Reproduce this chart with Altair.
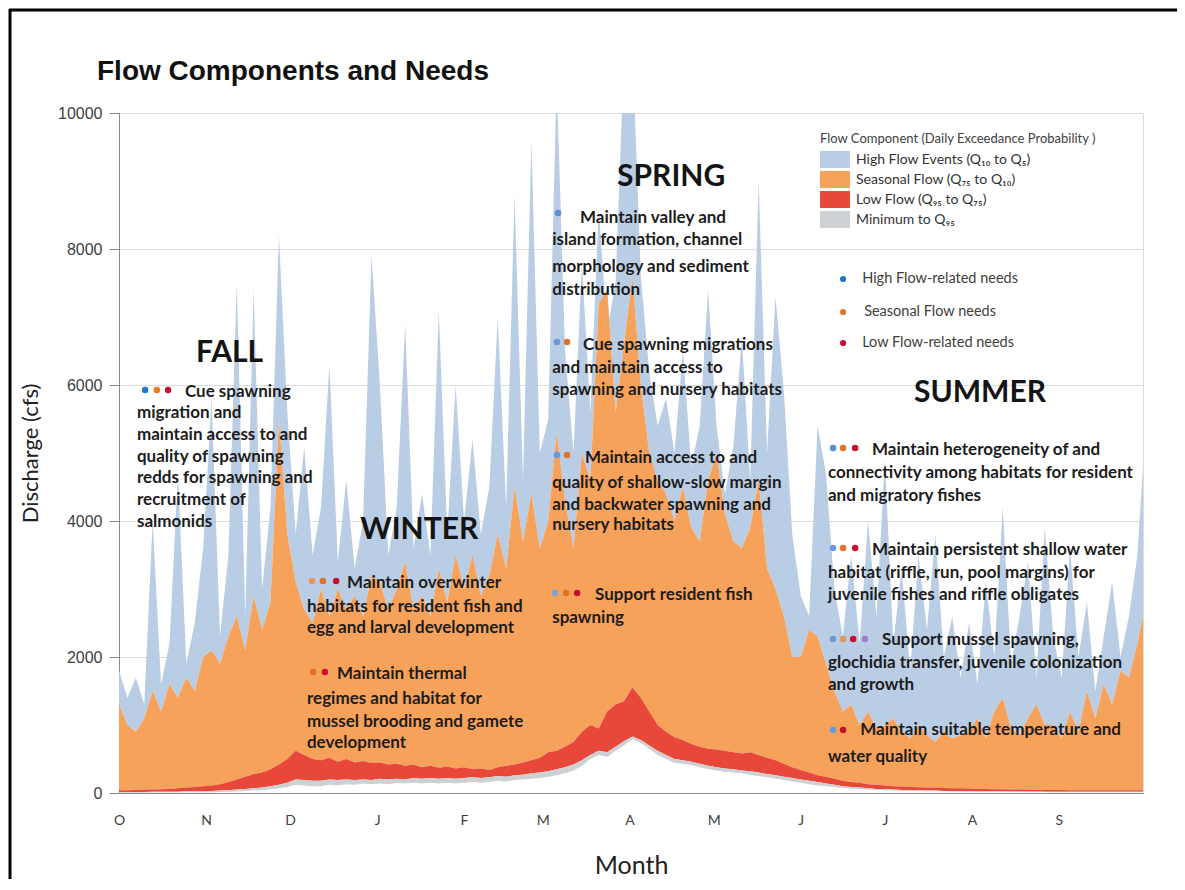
import altair as alt
import pandas as pd

# ---------------- data ----------------
days = [0, 3, 6, 9, 12, 15, 18, 21, 24, 27, 30,
        33, 36, 39, 42, 45, 48, 51, 54, 57, 60,
        63, 66, 69, 72, 75, 78, 81, 84, 87, 90,
        93, 96, 99, 102, 105, 108, 111, 114, 117, 120,
        123, 126, 129, 132, 135, 138, 141, 144, 147, 150,
        153, 156, 159, 162, 165, 168, 171, 174, 177, 180,
        183, 186, 189, 192, 195, 198, 201, 204, 207, 210,
        213, 216, 219, 222, 225, 228, 231, 234, 237, 240,
        243, 246, 249, 252, 255, 258, 261, 264, 267, 270,
        273, 276, 279, 282, 285, 288, 291, 294, 297, 300,
        303, 306, 309, 312, 315, 318, 321, 324, 327, 330,
        333, 336, 339, 342, 345, 348, 351, 354, 357, 360, 363,
        365]

q5 = [1800, 1400, 1700, 1300, 4000, 1600, 2200, 4700, 1900, 2500, 3600,
      5800, 2300, 3500, 7500, 2600, 7400, 3000, 4200, 8200, 5600,
      3800, 5100, 3500, 4200, 6300, 3400, 4600, 3300, 4000, 7900,
      6000, 3500, 4200, 6900, 3600, 4400, 3500, 7100, 3800, 6000,
      4000, 5200, 3800, 4500, 7000, 4200, 8800, 4600, 9600, 5000,
      5500, 10500, 6500, 5000, 7800, 5600, 8600, 6800, 7500, 10800,
      11000, 7600, 6200, 5400, 5800, 5000, 6500, 4800, 5400, 7400,
      5400, 4400, 5100, 6700, 4600, 9000, 5000, 7300, 5900, 3800,
      2900, 2600, 5400, 4700, 3000, 2300, 3500, 2200, 4000, 2600,
      4900, 2200, 3300, 1800, 3500, 2400, 3800, 2000, 2600, 1700,
      2500, 1600, 3100, 2000, 4200, 1900, 2600, 3400, 1700, 3900,
      2300, 1700, 3600, 2000, 2800, 1500, 2300, 3100, 2000, 2600, 3500,
      4800]

q10 = [1300, 1000, 900, 1100, 1500, 1200, 1600, 1400, 1700, 1500, 2000,
       2100, 1900, 2300, 2600, 2100, 2900, 2400, 2800, 5500, 3800,
       3100, 2700, 2500, 3000, 2600, 3000, 2700, 2900, 2600, 3200,
       3100, 2700, 3000, 3400, 2700, 2900, 2600, 3300, 2800, 3500,
       3000, 3500, 2900, 3200, 3800, 3300, 4500, 3700, 4400, 3600,
       4000, 5300, 4300, 3600, 5000, 4600, 7200, 7400, 5600, 6600,
       7600, 6000, 5000, 4600, 4400, 4000, 4500, 3900, 3700, 4600,
       5000, 4100, 3700, 3600, 3900, 4600, 3300, 3000, 2600, 2000,
       2000, 2400, 2300, 1900, 1500, 1200, 1300, 1000, 1200, 950,
       1000, 1100, 900, 800, 1000, 850, 750, 900, 800, 850,
       900, 1100, 800, 1200, 1400, 950, 850, 1100, 1300, 1000,
       1000, 800, 1200, 900, 1500, 1100, 1600, 1300, 1800, 1700, 2200,
       2600]

q75 = [40, 40, 45, 50, 50, 55, 60, 70, 80, 90, 100,
       110, 130, 160, 200, 240, 280, 300, 350, 420, 500,
       620, 560, 500, 480, 520, 460, 500, 450, 470, 440,
       450, 420, 430, 400, 420, 380, 400, 370, 390, 360,
       380, 350, 360, 340, 380, 400, 420, 450, 480, 520,
       600, 620, 680, 750, 900, 1000, 950, 1200, 1300, 1350,
       1550, 1400, 1200, 1000, 900, 820, 780, 720, 680, 650,
       640, 620, 600, 580, 600, 560, 520, 480, 430, 380,
       340, 300, 260, 240, 210, 180, 160, 150, 130, 120,
       110, 100, 95, 90, 85, 80, 80, 75, 70, 70,
       65, 60, 60, 55, 55, 50, 50, 50, 45, 45,
       45, 45, 40, 40, 40, 40, 40, 40, 40, 40, 40,
       40]

q95 = [15, 15, 15, 15, 20, 20, 20, 20, 25, 25, 30,
       30, 35, 40, 50, 60, 70, 80, 100, 120, 150,
       200, 190, 180, 180, 200, 190, 200, 190, 200, 190,
       210, 200, 210, 200, 220, 210, 220, 210, 220, 210,
       220, 230, 220, 230, 250, 240, 260, 270, 290, 300,
       320, 350, 380, 420, 480, 560, 620, 600, 680, 760,
       830, 780, 700, 620, 560, 500, 480, 460, 430, 400,
       380, 360, 350, 330, 320, 300, 280, 260, 240, 220,
       200, 180, 160, 140, 120, 100, 90, 80, 70, 60,
       55, 50, 45, 40, 40, 35, 35, 30, 30, 30,
       28, 26, 25, 25, 24, 23, 22, 22, 21, 20,
       20, 20, 20, 20, 20, 20, 20, 20, 20, 20, 20,
       20]

qmin = [5, 5, 5, 5, 8, 8, 8, 8, 10, 10, 12,
        12, 15, 18, 22, 28, 35, 40, 55, 70, 90,
        120, 110, 100, 100, 120, 110, 130, 120, 140, 130,
        140, 130, 150, 140, 150, 140, 150, 140, 150, 140,
        150, 160, 150, 160, 180, 170, 190, 200, 210, 220,
        240, 260, 290, 330, 400, 500, 560, 530, 620, 700,
        790, 740, 650, 560, 500, 440, 430, 410, 380, 350,
        330, 310, 300, 290, 270, 250, 230, 210, 190, 170,
        150, 130, 110, 100, 90, 75, 65, 55, 50, 45,
        40, 35, 32, 30, 28, 26, 25, 24, 22, 20,
        18, 17, 16, 16, 15, 15, 14, 14, 13, 13,
        12, 12, 12, 12, 12, 12, 12, 12, 12, 12, 12,
        12]

components = ["High Flow Events  (Q\u2081\u2080 to Q\u2085)",
              "Seasonal Flow (Q\u2087\u2085 to Q\u2081\u2080)",
              "Low Flow (Q\u2089\u2085 to Q\u2087\u2085)",
              "Minimum to Q\u2089\u2085"]
component_colors = ["#B9CDE5", "#F7A25A", "#E8483A", "#CDD1D3"]

month_start_days = [0, 31, 61, 92, 123, 151, 182, 212, 243, 273, 304, 335]
month_labels = ["O", "N", "D", "J", "F", "M", "A", "M", "J", "J", "A", "S"]
y_ticks = [0, 2000, 4000, 6000, 8000, 10000]

season_names = ["FALL", "WINTER", "SPRING", "SUMMER"]
season_day = [39.4, 107.0, 196.8, 306.9]
season_cfs = [6471, 3868, 9059, 5882]

need_lines = [
    ("Cue spawning", 23.5, 5897),
    ("migration and", 6.4, 5588),
    ("maintain access to and", 6.4, 5265),
    ("quality of spawning", 6.4, 4941),
    ("redds for spawning and", 6.4, 4632),
    ("recruitment of", 6.4, 4309),
    ("salmonids", 6.4, 3985),
    ("Maintain overwinter", 81.3, 3088),
    ("habitats for resident fish and", 67.0, 2735),
    ("egg and larval development", 67.0, 2426),
    ("Maintain thermal", 77.7, 1750),
    ("regimes and habitat for", 67.0, 1382),
    ("mussel brooding and gamete", 67.0, 1044),
    ("development", 67.0, 735),
    ("Maintain valley and", 164.3, 8456),
    ("island formation, channel", 154.4, 8132),
    ("morphology and sediment", 154.4, 7735),
    ("distribution", 154.4, 7397),
    ("Cue spawning migrations", 165.4, 6588),
    ("and maintain access to", 154.4, 6250),
    ("spawning and  nursery habitats", 154.4, 5926),
    ("Maintain access to and", 166.1, 4926),
    ("quality of shallow-slow margin", 154.4, 4559),
    ("and backwater spawning and", 154.4, 4235),
    ("nursery habitats", 154.4, 3941),
    ("Support resident fish", 169.7, 2912),
    ("spawning", 154.4, 2574),
    ("Maintain heterogeneity of and", 268.4, 5044),
    ("connectivity among habitats for resident", 252.7, 4706),
    ("and migratory fishes", 252.7, 4368),
    ("Maintain persistent shallow water", 268.4, 3574),
    ("habitat (riffle, run, pool margins) for", 252.7, 3235),
    ("juvenile fishes and riffle obligates", 252.7, 2912),
    ("Support mussel spawning,", 272.0, 2250),
    ("glochidia transfer, juvenile colonization", 252.7, 1912),
    ("and growth", 252.7, 1588),
    ("Maintain suitable temperature and", 264.2, 926),
    ("water quality", 252.7, 529),
]

need_dots = [
    (9.3, 5926, "#1F77D0"), (13.5, 5926, "#F07B1C"), (17.5, 5926, "#C8102E"),
    (68.8, 3118, "#E8955A"), (72.7, 3118, "#E0732A"), (77.4, 3118, "#C8102E"),
    (69.2, 1779, "#E0732A"), (73.4, 1779, "#C8102E"),
    (156.5, 8529, "#5B8FD6"),
    (156.1, 6632, "#6A9AD6"), (159.7, 6632, "#E0732A"),
    (156.1, 4971, "#6A9AD6"), (159.7, 4971, "#E0732A"),
    (155.4, 2941, "#7FA3D8"), (159.4, 2941, "#E0732A"), (163.3, 2941, "#C8102E"),
    (254.5, 5074, "#5B8FD6"), (258.1, 5074, "#E0732A"), (262.4, 5074, "#C8102E"),
    (254.5, 3603, "#6A9AD6"), (258.1, 3603, "#E0732A"), (262.4, 3603, "#C8102E"),
    (254.5, 2265, "#6A9AD6"), (258.1, 2265, "#E0955A"), (261.7, 2265, "#C8102E"), (265.9, 2265, "#9B80C8"),
    (254.5, 926, "#6A9AD6"), (258.1, 926, "#C8102E"),
]

needs_key_labels = ["High Flow-related needs", "Seasonal Flow needs", "Low Flow-related needs"]
needs_key_colors = ["#1F77C4", "#E0732A", "#C8102E"]
needs_key_cfs = [7559, 7074, 6618]
needs_key_dot_day = 258.1
needs_key_text_day = [264.9, 265.6, 264.9]

# ---------------- build tables ----------------
rows = []
for i, d in enumerate(days):
    rows.append({"day": d, "component": components[0], "lo": q10[i], "hi": q5[i]})
    rows.append({"day": d, "component": components[1], "lo": q75[i], "hi": q10[i]})
    rows.append({"day": d, "component": components[2], "lo": q95[i], "hi": q75[i]})
    rows.append({"day": d, "component": components[3], "lo": qmin[i], "hi": q95[i]})
flow = pd.DataFrame(rows)

seasons = pd.DataFrame({"text": season_names, "day": season_day, "cfs": season_cfs})
lines = pd.DataFrame(need_lines, columns=["text", "day", "cfs"])
dots = pd.DataFrame(need_dots, columns=["day", "cfs", "col"])
key_dots = pd.DataFrame({"day": [needs_key_dot_day] * 3, "cfs": needs_key_cfs, "col": needs_key_colors})
key_text = pd.DataFrame({"day": needs_key_text_day, "cfs": needs_key_cfs, "text": needs_key_labels})

xscale = alt.Scale(domain=[0, 365], nice=False, zero=False)
yscale = alt.Scale(domain=[0, 10000], nice=False)

label_expr = "{}[indexof({}, datum.value)]".format(
    "[" + ",".join("'%s'" % m for m in month_labels) + "]",
    "[" + ",".join(str(v) for v in month_start_days) + "]")

x_axis = alt.Axis(values=month_start_days, labelExpr=label_expr, grid=False, ticks=False,
                  labelFlush=False, labelOverlap=False,
                  labelFont="Lato", labelFontSize=14, labelColor="#404040", labelPadding=27,
                  labelBaseline="middle", title="Month", titleFont="Lato", titleFontSize=25,
                  titleFontWeight="normal", titleColor="#222222", titleX=512, titleY=72,
                  titleBaseline="middle")
y_axis = alt.Axis(values=y_ticks, format="d", grid=True, tickSize=10, labelPadding=7,
                  labelFont="Liberation Sans",
                  labelFontSize=16, labelColor="#404040", title="Discharge (cfs)", titleFont="Lato",
                  titleFontSize=22, titleFontWeight="normal", titleColor="#222222",
                  titleX=-89, titleY=340, titleAngle=270, titleAlign="center", titleBaseline="middle")

areas = alt.Chart(flow).mark_area(clip=True, interpolate="linear", opacity=1).encode(
    x=alt.X("day:Q", scale=xscale, axis=x_axis),
    y=alt.Y("hi:Q", stack=None, scale=yscale, axis=y_axis),
    y2="lo:Q",
    color=alt.Color("component:N", scale=alt.Scale(domain=components, range=component_colors),
                    sort=components,
                    legend=alt.Legend(orient="none", legendX=701, legendY=20,
                                      title="Flow Component (Daily Exceedance Probability )",
                                      titleFont="Lato", titleFontSize=13, titleFontWeight="normal",
                                      titleColor="#404040", titlePadding=5, titleLimit=400,
                                      labelFont="Lato", labelFontSize=14, labelColor="#333333",
                                      labelLimit=300, labelOffset=19,
                                      symbolType="M-1,-1H2.53V1H-1Z", symbolSize=289,
                                      symbolStrokeWidth=0, symbolOpacity=1, rowPadding=3)),
)


def ax():
    return dict(x=alt.X("day:Q", scale=xscale, axis=x_axis),
                y=alt.Y("cfs:Q", scale=yscale, axis=y_axis))


season_layer = alt.Chart(seasons).mark_text(font="Lato", fontSize=30, fontWeight="bold",
                                            color="#141414", align="center", baseline="middle").encode(
    text="text:N", **ax())
line_layer = alt.Chart(lines).mark_text(font="Lato", fontSize=17, fontWeight="bold",
                                        color="#1c1c1c", align="left", baseline="middle").encode(
    text="text:N", **ax())
dot_layer = alt.Chart(dots).mark_circle(size=42, opacity=1).encode(
    color=alt.Color("col:N", scale=None), **ax())
key_dot_layer = alt.Chart(key_dots).mark_circle(size=38, opacity=1).encode(
    color=alt.Color("col:N", scale=None), **ax())
key_text_layer = alt.Chart(key_text).mark_text(font="Lato", fontSize=14.5, color="#404040",
                                               align="left", baseline="middle").encode(
    text="text:N", **ax())

frame = pd.DataFrame({"k": [0]})
left_rule = alt.Chart(frame).mark_rule(color="black", strokeWidth=3).encode(
    x=alt.value(-109), y=alt.value(-104), y2=alt.value(790))
top_rule = alt.Chart(frame).mark_rule(color="black", strokeWidth=3).encode(
    x=alt.value(-110), x2=alt.value(1060), y=alt.value(-103))

chart = alt.layer(areas, season_layer, line_layer, dot_layer, key_dot_layer, key_text_layer,
                  left_rule, top_rule).properties(
    width=1024, height=680,
    autosize=alt.AutoSizeParams(type="none"),
    padding={"left": 111, "top": 105, "right": 34, "bottom": 86},
    title=alt.TitleParams("Flow Components and Needs", anchor="start", frame="group",
                          font="Liberation Sans", fontSize=28, fontWeight="bold", color="#111111",
                          dx=-22, dy=96, offset=18),
).configure_view(stroke="#A6A6A6", strokeWidth=1).configure_axis(
    domainColor="#A6A6A6", gridColor="#A6A6A6", tickColor="#A6A6A6", gridWidth=1
).configure(background="white")

chart.save("out.html", embed_options={"renderer": "svg", "actions": False})
